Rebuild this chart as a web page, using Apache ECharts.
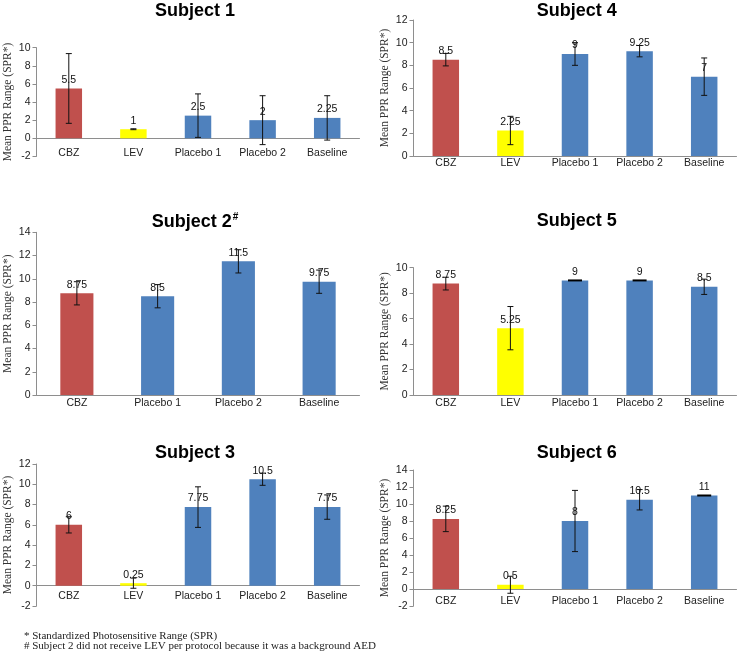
<!DOCTYPE html>
<html><head><meta charset="utf-8">
<script src="https://cdn.jsdelivr.net/npm/echarts@6/dist/echarts.min.js"></script>
<style>html,body{margin:0;padding:0;background:#fff}#c{width:739px;height:660px}</style>
</head><body><div id="c"></div>
<script>
// ---- data ----
const cats5 = ['CBZ', 'LEV', 'Placebo 1', 'Placebo 2', 'Baseline'];
const cats4 = ['CBZ', 'Placebo 1', 'Placebo 2', 'Baseline'];
const s1Vals = [5.5, 1, 2.5, 2, 2.25];
const s1Err  = [3.85, 0.05, 2.4, 2.7, 2.45];
const s2Vals = [8.75, 8.5, 11.5, 9.75];
const s2Err  = [1, 1, 1, 1];
const s3Vals = [6, 0.25, 7.75, 10.5, 7.75];
const s3Err  = [0.8, 0.5, 2, 0.6, 1.2];
const s4Vals = [8.5, 2.25, 9, 9.25, 7];
const s4Err  = [0.55, 1.25, 1, 0.5, 1.65];
const s5Vals = [8.75, 5.25, 9, 9, 8.5];
const s5Err  = [0.5, 1.7, 0, 0, 0.6];
const s6Vals = [8.25, 0.5, 8, 10.5, 11];
const s6Err  = [1.5, 1, 3.6, 1.2, 0];
const yMins = [-2, 0, -2, 0, 0, -2];
const yMaxs = [10, 14, 12, 12, 10, 14];
const yTitle = 'Mean PPR Range (SPR*)';
const footnotes = ['* Standardized Photosensitive Range (SPR)',
                   '# Subject 2 did not receive LEV per protocol because it was a background AED'];

// ---- styling / layout ----
const catColor = {'CBZ': '#C0504D', 'LEV': '#FFFF00', 'Placebo 1': '#4F81BD', 'Placebo 2': '#4F81BD', 'Baseline': '#4F81BD'};
const panels = [
  {title: 'Subject 1', cats: cats5, vals: s1Vals, err: s1Err, grid: {left: 36.5, top: 47.7, width: 323, height: 108.7}, tx: 195, ty: 2, gap: 8.9},
  {title: 'Subject 2{sup|#}', cats: cats4, vals: s2Vals, err: s2Err, grid: {left: 36.5, top: 232.3, width: 323, height: 162.7}, tx: 195, ty: 212.5, gap: 2.8},
  {title: 'Subject 3', cats: cats5, vals: s3Vals, err: s3Err, grid: {left: 36.5, top: 464, width: 323, height: 142}, tx: 195, ty: 444, gap: 4.8},
  {title: 'Subject 4', cats: cats5, vals: s4Vals, err: s4Err, grid: {left: 413.5, top: 20, width: 323, height: 136}, tx: 576.7, ty: 2, gap: 1.8},
  {title: 'Subject 5', cats: cats5, vals: s5Vals, err: s5Err, grid: {left: 413.5, top: 267.7, width: 323, height: 127.3}, tx: 576.7, ty: 212.5, gap: 2.8},
  {title: 'Subject 6', cats: cats5, vals: s6Vals, err: s6Err, grid: {left: 413.5, top: 470, width: 323, height: 136}, tx: 576.7, ty: 444, gap: 6.2}
];
const SANS = 'Liberation Sans, Arial, sans-serif';
const SERIF = 'Liberation Serif, Times New Roman, serif';
const axisGray = '#8E8E8E';

const option = {
  animation: false,
  backgroundColor: '#fff',
  title: [], grid: [], xAxis: [], yAxis: [], series: [],
  graphic: footnotes.map((t, i) => ({
    type: 'text', left: 24, top: 630.5 + i * 10,
    style: {text: t, font: '11px ' + SERIF, fill: '#222'}
  }))
};

panels.forEach((p, i) => {
  // labels sit below the zero line; the axis label margin is measured from the grid bottom
  const belowZero = p.grid.height * (0 - yMins[i]) / (yMaxs[i] - yMins[i]);
  option.title.push({
    text: p.title, left: p.tx, top: p.ty, textAlign: 'center', padding: 0,
    textStyle: {fontFamily: SANS, fontWeight: 'bold', fontSize: 18, color: '#000',
      rich: {sup: {fontFamily: SANS, fontWeight: 'bold', fontSize: 10, color: '#000', verticalAlign: 'top', padding: [0, 0, 9, 1]}}}
  });
  option.grid.push(Object.assign({containLabel: false}, p.grid));
  option.xAxis.push({
    type: 'category', gridIndex: i, data: p.cats,
    axisLine: {onZero: true, lineStyle: {color: axisGray, width: 1}},
    axisTick: {show: false},
    axisLabel: {fontFamily: SANS, fontSize: 10.5, color: '#222', margin: p.gap - belowZero, interval: 0}
  });
  option.yAxis.push({
    type: 'value', gridIndex: i, min: yMins[i], max: yMaxs[i], interval: 2,
    name: yTitle, nameLocation: 'middle', nameGap: 23,
    nameTextStyle: {fontFamily: SERIF, fontSize: 11.5, color: '#333'},
    axisLine: {show: true, lineStyle: {color: axisGray, width: 1}},
    axisTick: {show: true, length: 4, lineStyle: {color: axisGray}},
    splitLine: {show: false},
    axisLabel: {fontFamily: SANS, fontSize: 10.5, color: '#222', margin: 6}
  });
  option.series.push({
    type: 'bar', xAxisIndex: i, yAxisIndex: i, barWidth: '41%',
    data: p.vals.map((v, k) => ({value: v, itemStyle: {color: catColor[p.cats[k]]}})),
    label: {show: true, position: 'top', distance: 3, fontFamily: SANS, fontSize: 10.5, color: '#111'},
    z: 2
  });
  option.series.push({
    type: 'custom', xAxisIndex: i, yAxisIndex: i, z: 5,
    data: p.vals.map((v, k) => [k, v, p.err[k]]),
    renderItem: function (params, api) {
      const x = api.value(0), v = api.value(1), e = api.value(2);
      const top = api.coord([x, v + e]);
      const bot = api.coord([x, v - e]);
      if (e === 0) {
        return {type: 'line', shape: {x1: top[0] - 7, y1: top[1], x2: top[0] + 7, y2: top[1]},
          style: {stroke: '#000', lineWidth: 2}};
      }
      const hw = 3;
      return {type: 'group', children: [
        {type: 'line', shape: {x1: top[0], y1: top[1], x2: bot[0], y2: bot[1]}, style: {stroke: '#111', lineWidth: 1}},
        {type: 'line', shape: {x1: top[0] - hw, y1: top[1], x2: top[0] + hw, y2: top[1]}, style: {stroke: '#111', lineWidth: 1}},
        {type: 'line', shape: {x1: bot[0] - hw, y1: bot[1], x2: bot[0] + hw, y2: bot[1]}, style: {stroke: '#111', lineWidth: 1}}
      ]};
    }
  });
});

const chart = echarts.init(document.getElementById('c'), null, {renderer: 'canvas'});
chart.setOption(option);
</script>
</body></html>
